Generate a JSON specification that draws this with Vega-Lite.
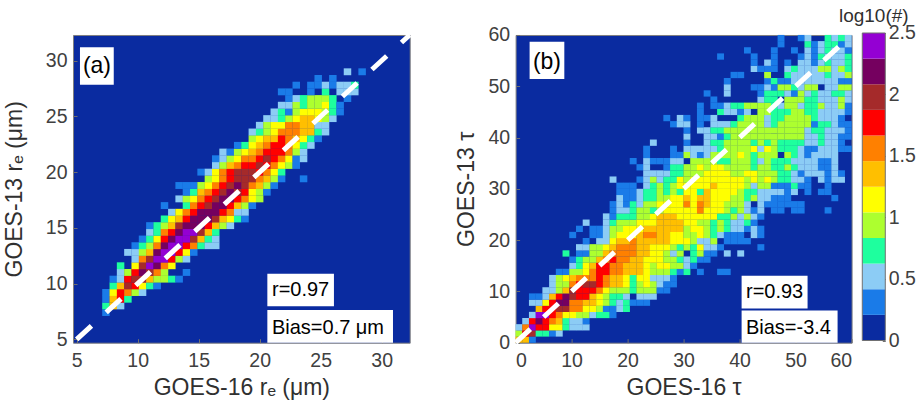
{"$schema":"https://vega.github.io/schema/vega-lite/v6.json","background":"white","padding":{"left":2,"top":7,"right":0,"bottom":0},"bounds":"flush","spacing":105.6,"config":{"font":"Liberation Sans","view":{"stroke":"#808080","strokeWidth":1},"axis":{"grid":false,"labelFont":"Liberation Sans","titleFont":"Liberation Sans","labelFontSize":19.5,"titleFontSize":23,"labelColor":"#404040","titleColor":"#303030","titleFontWeight":"normal","tickColor":"#707070","domain":false,"tickSize":-4,"labelPadding":10}},"datasets":{"a":[
{"x":7.4,"y":7.4,"v":0.3},
{"x":7.4,"y":8,"v":0.7},{"x":8,"y":8,"v":1.35},{"x":8.6,"y":8,"v":0.5},
{"x":7.4,"y":8.6,"v":0.3},{"x":8,"y":8.6,"v":1.35},{"x":8.6,"y":8.6,"v":1.75},{"x":9.2,"y":8.6,"v":0.7},
{"x":7.4,"y":9.2,"v":0.3},{"x":8,"y":9.2,"v":1.15},{"x":8.6,"y":9.2,"v":1.75},{"x":9.2,"y":9.2,"v":1.55},{"x":9.8,"y":9.2,"v":0.95},{"x":10.4,"y":9.2,"v":0.5},
{"x":8,"y":9.8,"v":0.7},{"x":8.6,"y":9.8,"v":1.35},{"x":9.2,"y":9.8,"v":1.95},{"x":9.8,"y":9.8,"v":1.75},{"x":10.4,"y":9.8,"v":1.15},{"x":11,"y":9.8,"v":0.7},{"x":11.6,"y":9.8,"v":0.3},
{"x":8,"y":10.4,"v":0.3},{"x":8.6,"y":10.4,"v":0.5},{"x":9.2,"y":10.4,"v":1.75},{"x":9.8,"y":10.4,"v":1.95},{"x":10.4,"y":10.4,"v":1.95},{"x":11,"y":10.4,"v":1.35},{"x":11.6,"y":10.4,"v":0.95},{"x":12.2,"y":10.4,"v":0.95},{"x":12.8,"y":10.4,"v":0.7},{"x":13.4,"y":10.4,"v":0.3},
{"x":8.6,"y":11,"v":0.5},{"x":9.2,"y":11,"v":0.95},{"x":9.8,"y":11,"v":1.75},{"x":10.4,"y":11,"v":2.15},{"x":11,"y":11,"v":1.95},{"x":11.6,"y":11,"v":1.55},{"x":12.2,"y":11,"v":0.95},{"x":14,"y":11,"v":0.3},
{"x":8.6,"y":11.6,"v":0.7},{"x":9.8,"y":11.6,"v":1.15},{"x":10.4,"y":11.6,"v":1.95},{"x":11,"y":11.6,"v":2.35},{"x":11.6,"y":11.6,"v":2.15},{"x":12.2,"y":11.6,"v":1.55},{"x":12.8,"y":11.6,"v":1.15},
{"x":9.8,"y":12.2,"v":0.5},{"x":10.4,"y":12.2,"v":1.55},{"x":11,"y":12.2,"v":1.95},{"x":11.6,"y":12.2,"v":2.35},{"x":12.2,"y":12.2,"v":2.35},{"x":12.8,"y":12.2,"v":1.75},{"x":13.4,"y":12.2,"v":0.95},{"x":14,"y":12.2,"v":0.5},
{"x":9.2,"y":12.8,"v":0.5},{"x":9.8,"y":12.8,"v":0.5},{"x":10.4,"y":12.8,"v":0.95},{"x":11,"y":12.8,"v":1.35},{"x":11.6,"y":12.8,"v":2.15},{"x":12.2,"y":12.8,"v":2.35},{"x":12.8,"y":12.8,"v":2.35},{"x":13.4,"y":12.8,"v":1.75},{"x":14,"y":12.8,"v":1.15},{"x":14.6,"y":12.8,"v":0.3},
{"x":9.8,"y":13.4,"v":0.3},{"x":10.4,"y":13.4,"v":0.7},{"x":11,"y":13.4,"v":0.95},{"x":11.6,"y":13.4,"v":1.55},{"x":12.2,"y":13.4,"v":2.15},{"x":12.8,"y":13.4,"v":2.35},{"x":13.4,"y":13.4,"v":2.35},{"x":14,"y":13.4,"v":1.75},{"x":14.6,"y":13.4,"v":1.55},{"x":15.2,"y":13.4,"v":0.7},{"x":15.8,"y":13.4,"v":0.5},{"x":16.4,"y":13.4,"v":0.5},
{"x":10.4,"y":14,"v":0.3},{"x":11,"y":14,"v":0.7},{"x":11.6,"y":14,"v":1.15},{"x":12.2,"y":14,"v":1.75},{"x":12.8,"y":14,"v":2.15},{"x":13.4,"y":14,"v":2.35},{"x":14,"y":14,"v":2.35},{"x":14.6,"y":14,"v":1.95},{"x":15.2,"y":14,"v":1.35},{"x":15.8,"y":14,"v":0.7},{"x":16.4,"y":14,"v":0.5},
{"x":11,"y":14.6,"v":0.5},{"x":11.6,"y":14.6,"v":0.7},{"x":12.2,"y":14.6,"v":1.55},{"x":12.8,"y":14.6,"v":1.75},{"x":13.4,"y":14.6,"v":2.15},{"x":14,"y":14.6,"v":2.35},{"x":14.6,"y":14.6,"v":2.35},{"x":15.2,"y":14.6,"v":1.95},{"x":15.8,"y":14.6,"v":1.35},{"x":16.4,"y":14.6,"v":0.7},
{"x":11,"y":15.2,"v":0.3},{"x":11.6,"y":15.2,"v":0.7},{"x":12.2,"y":15.2,"v":0.95},{"x":12.8,"y":15.2,"v":1.35},{"x":13.4,"y":15.2,"v":1.95},{"x":14,"y":15.2,"v":2.15},{"x":14.6,"y":15.2,"v":2.15},{"x":15.2,"y":15.2,"v":2.15},{"x":15.8,"y":15.2,"v":1.75},{"x":16.4,"y":15.2,"v":1.35},{"x":17,"y":15.2,"v":0.95},{"x":17.6,"y":15.2,"v":0.5},
{"x":12.2,"y":15.8,"v":0.7},{"x":12.8,"y":15.8,"v":1.15},{"x":13.4,"y":15.8,"v":1.35},{"x":14,"y":15.8,"v":1.75},{"x":14.6,"y":15.8,"v":2.15},{"x":15.2,"y":15.8,"v":2.15},{"x":15.8,"y":15.8,"v":2.15},{"x":16.4,"y":15.8,"v":1.95},{"x":17,"y":15.8,"v":1.35},{"x":17.6,"y":15.8,"v":1.15},{"x":18.2,"y":15.8,"v":0.7},{"x":18.8,"y":15.8,"v":0.3},
{"x":12.8,"y":16.4,"v":0.5},{"x":13.4,"y":16.4,"v":1.15},{"x":14,"y":16.4,"v":1.55},{"x":14.6,"y":16.4,"v":1.75},{"x":15.2,"y":16.4,"v":2.15},{"x":15.8,"y":16.4,"v":2.15},{"x":16.4,"y":16.4,"v":2.15},{"x":17,"y":16.4,"v":1.75},{"x":17.6,"y":16.4,"v":1.55},{"x":18.2,"y":16.4,"v":0.5},{"x":18.8,"y":16.4,"v":0.5},
{"x":12.2,"y":17,"v":0.3},{"x":14,"y":17,"v":0.7},{"x":14.6,"y":17,"v":1.55},{"x":15.2,"y":17,"v":1.75},{"x":15.8,"y":17,"v":1.95},{"x":16.4,"y":17,"v":2.15},{"x":17,"y":17,"v":2.15},{"x":17.6,"y":17,"v":1.75},{"x":18.2,"y":17,"v":1.35},{"x":18.8,"y":17,"v":0.95},{"x":19.4,"y":17,"v":0.3},
{"x":13.4,"y":17.6,"v":0.5},{"x":14,"y":17.6,"v":0.95},{"x":14.6,"y":17.6,"v":1.15},{"x":15.2,"y":17.6,"v":1.55},{"x":15.8,"y":17.6,"v":1.75},{"x":16.4,"y":17.6,"v":1.95},{"x":17,"y":17.6,"v":2.15},{"x":17.6,"y":17.6,"v":2.15},{"x":18.2,"y":17.6,"v":1.75},{"x":18.8,"y":17.6,"v":1.55},{"x":19.4,"y":17.6,"v":1.15},{"x":20,"y":17.6,"v":0.95},
{"x":14,"y":18.2,"v":0.3},{"x":14.6,"y":18.2,"v":0.7},{"x":15.2,"y":18.2,"v":1.35},{"x":15.8,"y":18.2,"v":1.55},{"x":16.4,"y":18.2,"v":1.75},{"x":17,"y":18.2,"v":1.95},{"x":17.6,"y":18.2,"v":2.15},{"x":18.2,"y":18.2,"v":1.95},{"x":18.8,"y":18.2,"v":1.75},{"x":19.4,"y":18.2,"v":1.15},{"x":20,"y":18.2,"v":0.95},{"x":20.6,"y":18.2,"v":0.3},
{"x":13.4,"y":18.8,"v":0.3},{"x":14,"y":18.8,"v":0.3},{"x":14.6,"y":18.8,"v":0.3},{"x":15.2,"y":18.8,"v":0.95},{"x":15.8,"y":18.8,"v":1.15},{"x":16.4,"y":18.8,"v":1.55},{"x":17,"y":18.8,"v":1.75},{"x":17.6,"y":18.8,"v":1.95},{"x":18.2,"y":18.8,"v":2.15},{"x":18.8,"y":18.8,"v":1.95},{"x":19.4,"y":18.8,"v":1.55},{"x":20,"y":18.8,"v":1.35},{"x":20.6,"y":18.8,"v":0.95},{"x":21.2,"y":18.8,"v":0.3},
{"x":15.8,"y":19.4,"v":0.95},{"x":16.4,"y":19.4,"v":1.15},{"x":17,"y":19.4,"v":1.55},{"x":17.6,"y":19.4,"v":1.75},{"x":18.2,"y":19.4,"v":1.95},{"x":18.8,"y":19.4,"v":1.95},{"x":19.4,"y":19.4,"v":1.95},{"x":20,"y":19.4,"v":1.55},{"x":20.6,"y":19.4,"v":1.35},{"x":21.2,"y":19.4,"v":0.95},{"x":21.8,"y":19.4,"v":0.3},{"x":23.6,"y":19.4,"v":0.3},
{"x":15.2,"y":20,"v":0.3},{"x":15.8,"y":20,"v":0.5},{"x":16.4,"y":20,"v":1.15},{"x":17,"y":20,"v":1.55},{"x":17.6,"y":20,"v":1.75},{"x":18.2,"y":20,"v":1.95},{"x":18.8,"y":20,"v":1.95},{"x":19.4,"y":20,"v":1.95},{"x":20,"y":20,"v":1.75},{"x":20.6,"y":20,"v":1.55},{"x":21.2,"y":20,"v":1.15},{"x":21.8,"y":20,"v":0.7},
{"x":16.4,"y":20.6,"v":0.5},{"x":17,"y":20.6,"v":0.95},{"x":17.6,"y":20.6,"v":1.35},{"x":18.2,"y":20.6,"v":1.55},{"x":18.8,"y":20.6,"v":1.75},{"x":19.4,"y":20.6,"v":1.75},{"x":20,"y":20.6,"v":1.95},{"x":20.6,"y":20.6,"v":1.75},{"x":21.2,"y":20.6,"v":1.55},{"x":21.8,"y":20.6,"v":1.15},{"x":22.4,"y":20.6,"v":0.95},{"x":23,"y":20.6,"v":0.3},
{"x":16.4,"y":21.2,"v":0.3},{"x":17,"y":21.2,"v":0.5},{"x":17.6,"y":21.2,"v":0.95},{"x":18.2,"y":21.2,"v":1.15},{"x":18.8,"y":21.2,"v":1.55},{"x":19.4,"y":21.2,"v":1.55},{"x":20,"y":21.2,"v":1.75},{"x":20.6,"y":21.2,"v":1.95},{"x":21.2,"y":21.2,"v":1.75},{"x":21.8,"y":21.2,"v":1.55},{"x":22.4,"y":21.2,"v":1.15},{"x":23,"y":21.2,"v":0.3},{"x":23.6,"y":21.2,"v":0.5},
{"x":17,"y":21.8,"v":0.5},{"x":17.6,"y":21.8,"v":0.3},{"x":18.2,"y":21.8,"v":0.95},{"x":18.8,"y":21.8,"v":1.15},{"x":19.4,"y":21.8,"v":1.35},{"x":20,"y":21.8,"v":1.55},{"x":20.6,"y":21.8,"v":1.75},{"x":21.2,"y":21.8,"v":1.75},{"x":21.8,"y":21.8,"v":1.75},{"x":22.4,"y":21.8,"v":1.55},{"x":23,"y":21.8,"v":0.95},{"x":23.6,"y":21.8,"v":0.5},
{"x":18.2,"y":22.4,"v":0.3},{"x":18.8,"y":22.4,"v":0.7},{"x":19.4,"y":22.4,"v":1.15},{"x":20,"y":22.4,"v":1.35},{"x":20.6,"y":22.4,"v":1.55},{"x":21.2,"y":22.4,"v":1.75},{"x":21.8,"y":22.4,"v":1.75},{"x":22.4,"y":22.4,"v":1.55},{"x":23,"y":22.4,"v":1.15},{"x":23.6,"y":22.4,"v":0.7},{"x":24.2,"y":22.4,"v":0.5},
{"x":19.4,"y":23,"v":0.95},{"x":20,"y":23,"v":1.15},{"x":20.6,"y":23,"v":1.35},{"x":21.2,"y":23,"v":1.35},{"x":21.8,"y":23,"v":1.75},{"x":22.4,"y":23,"v":1.55},{"x":23,"y":23,"v":1.35},{"x":23.6,"y":23,"v":1.15},{"x":24.2,"y":23,"v":0.7},{"x":24.8,"y":23,"v":0.3},
{"x":19.4,"y":23.6,"v":0.5},{"x":20,"y":23.6,"v":0.7},{"x":20.6,"y":23.6,"v":0.95},{"x":21.2,"y":23.6,"v":1.15},{"x":21.8,"y":23.6,"v":1.55},{"x":22.4,"y":23.6,"v":1.55},{"x":23,"y":23.6,"v":1.55},{"x":23.6,"y":23.6,"v":1.35},{"x":24.2,"y":23.6,"v":1.35},{"x":24.8,"y":23.6,"v":0.7},{"x":25.4,"y":23.6,"v":0.5},
{"x":20,"y":24.2,"v":0.5},{"x":20.6,"y":24.2,"v":0.95},{"x":21.2,"y":24.2,"v":1.15},{"x":21.8,"y":24.2,"v":1.15},{"x":22.4,"y":24.2,"v":1.55},{"x":23,"y":24.2,"v":1.55},{"x":23.6,"y":24.2,"v":1.35},{"x":24.2,"y":24.2,"v":1.35},{"x":24.8,"y":24.2,"v":0.5},{"x":25.4,"y":24.2,"v":0.5},
{"x":20.6,"y":24.8,"v":0.5},{"x":21.2,"y":24.8,"v":0.5},{"x":21.8,"y":24.8,"v":0.7},{"x":22.4,"y":24.8,"v":0.95},{"x":23,"y":24.8,"v":1.15},{"x":23.6,"y":24.8,"v":1.35},{"x":24.2,"y":24.8,"v":1.35},{"x":24.8,"y":24.8,"v":1.15},{"x":25.4,"y":24.8,"v":0.95},{"x":26,"y":24.8,"v":0.5},
{"x":21.2,"y":25.4,"v":0.5},{"x":21.8,"y":25.4,"v":0.7},{"x":22.4,"y":25.4,"v":0.3},{"x":23,"y":25.4,"v":0.95},{"x":23.6,"y":25.4,"v":1.15},{"x":24.2,"y":25.4,"v":1.15},{"x":24.8,"y":25.4,"v":1.15},{"x":25.4,"y":25.4,"v":0.95},{"x":26,"y":25.4,"v":0.7},{"x":26.6,"y":25.4,"v":0.3},
{"x":21.8,"y":26,"v":0.5},{"x":22.4,"y":26,"v":0.5},{"x":23,"y":26,"v":0.95},{"x":23.6,"y":26,"v":0.7},{"x":24.2,"y":26,"v":0.95},{"x":24.8,"y":26,"v":0.95},{"x":25.4,"y":26,"v":1.15},{"x":26,"y":26,"v":0.7},{"x":26.6,"y":26,"v":0.3},
{"x":22.4,"y":26.6,"v":0.3},{"x":23,"y":26.6,"v":0.5},{"x":23.6,"y":26.6,"v":0.7},{"x":24.2,"y":26.6,"v":0.95},{"x":24.8,"y":26.6,"v":0.95},{"x":25.4,"y":26.6,"v":0.95},{"x":26,"y":26.6,"v":0.7},{"x":27.2,"y":26.6,"v":0.3},
{"x":21.8,"y":27.2,"v":0.3},{"x":22.4,"y":27.2,"v":0.3},{"x":24.2,"y":27.2,"v":0.3},{"x":25.4,"y":27.2,"v":0.7},{"x":26.6,"y":27.2,"v":0.5},{"x":27.2,"y":27.2,"v":0.5},{"x":27.8,"y":27.2,"v":0.5},
{"x":23,"y":27.8,"v":0.3},{"x":24.2,"y":27.8,"v":0.3},{"x":24.8,"y":27.8,"v":0.3},{"x":25.4,"y":27.8,"v":0.5},{"x":26,"y":27.8,"v":0.3},{"x":26.6,"y":27.8,"v":0.5},{"x":27.2,"y":27.8,"v":0.5},{"x":27.8,"y":27.8,"v":0.7},
{"x":24.8,"y":28.4,"v":0.3},{"x":26,"y":28.4,"v":0.3},
{"x":27.2,"y":29,"v":0.5},{"x":28.4,"y":29,"v":0.3}
],"b":[
{"x":0.6,"y":0.6,"v":1.35},{"x":1.8,"y":0.6,"v":1.35},{"x":3,"y":0.6,"v":0.3},
{"x":0.6,"y":1.8,"v":0.95},{"x":1.8,"y":1.8,"v":1.75},{"x":3,"y":1.8,"v":1.95},{"x":4.2,"y":1.8,"v":0.7},{"x":5.4,"y":1.8,"v":0.7},{"x":6.6,"y":1.8,"v":0.3},{"x":7.8,"y":1.8,"v":0.5},
{"x":0.6,"y":3,"v":0.5},{"x":1.8,"y":3,"v":1.55},{"x":3,"y":3,"v":2.35},{"x":4.2,"y":3,"v":1.75},{"x":5.4,"y":3,"v":1.75},{"x":6.6,"y":3,"v":1.15},{"x":7.8,"y":3,"v":1.15},{"x":9,"y":3,"v":0.7},{"x":10.2,"y":3,"v":0.5},{"x":11.4,"y":3,"v":0.5},{"x":12.6,"y":3,"v":0.5},
{"x":1.8,"y":4.2,"v":0.5},{"x":3,"y":4.2,"v":1.75},{"x":4.2,"y":4.2,"v":2.15},{"x":5.4,"y":4.2,"v":1.75},{"x":6.6,"y":4.2,"v":1.55},{"x":7.8,"y":4.2,"v":1.35},{"x":9,"y":4.2,"v":0.7},{"x":10.2,"y":4.2,"v":0.5},{"x":11.4,"y":4.2,"v":0.5},{"x":12.6,"y":4.2,"v":0.3},
{"x":3,"y":5.4,"v":0.5},{"x":4.2,"y":5.4,"v":2.35},{"x":5.4,"y":5.4,"v":2.35},{"x":6.6,"y":5.4,"v":1.75},{"x":7.8,"y":5.4,"v":1.55},{"x":9,"y":5.4,"v":1.15},{"x":10.2,"y":5.4,"v":1.15},{"x":11.4,"y":5.4,"v":0.95},{"x":12.6,"y":5.4,"v":0.95},{"x":13.8,"y":5.4,"v":0.5},{"x":15,"y":5.4,"v":0.7},{"x":16.2,"y":5.4,"v":0.7},{"x":17.4,"y":5.4,"v":0.3},
{"x":4.2,"y":6.6,"v":1.35},{"x":5.4,"y":6.6,"v":1.75},{"x":6.6,"y":6.6,"v":1.75},{"x":7.8,"y":6.6,"v":1.95},{"x":9,"y":6.6,"v":1.95},{"x":10.2,"y":6.6,"v":1.55},{"x":11.4,"y":6.6,"v":1.55},{"x":12.6,"y":6.6,"v":1.15},{"x":13.8,"y":6.6,"v":1.15},{"x":15,"y":6.6,"v":0.95},{"x":16.2,"y":6.6,"v":0.3},{"x":17.4,"y":6.6,"v":0.3},{"x":18.6,"y":6.6,"v":0.5},{"x":19.8,"y":6.6,"v":0.7},
{"x":3,"y":7.8,"v":0.5},{"x":4.2,"y":7.8,"v":0.5},{"x":5.4,"y":7.8,"v":1.15},{"x":6.6,"y":7.8,"v":1.75},{"x":7.8,"y":7.8,"v":2.15},{"x":9,"y":7.8,"v":2.15},{"x":10.2,"y":7.8,"v":1.55},{"x":11.4,"y":7.8,"v":1.55},{"x":12.6,"y":7.8,"v":1.35},{"x":13.8,"y":7.8,"v":1.35},{"x":15,"y":7.8,"v":1.15},{"x":16.2,"y":7.8,"v":0.95},{"x":17.4,"y":7.8,"v":0.7},{"x":18.6,"y":7.8,"v":0.5},{"x":19.8,"y":7.8,"v":0.7},{"x":21,"y":7.8,"v":0.3},{"x":22.2,"y":7.8,"v":0.3},{"x":23.4,"y":7.8,"v":0.3},
{"x":3,"y":9,"v":0.3},{"x":4.2,"y":9,"v":0.3},{"x":5.4,"y":9,"v":0.5},{"x":6.6,"y":9,"v":1.35},{"x":7.8,"y":9,"v":1.75},{"x":9,"y":9,"v":2.15},{"x":10.2,"y":9,"v":1.95},{"x":11.4,"y":9,"v":1.75},{"x":12.6,"y":9,"v":1.75},{"x":13.8,"y":9,"v":1.35},{"x":15,"y":9,"v":1.15},{"x":16.2,"y":9,"v":0.95},{"x":17.4,"y":9,"v":0.7},{"x":18.6,"y":9,"v":0.7},{"x":19.8,"y":9,"v":0.5},{"x":22.2,"y":9,"v":0.5},{"x":23.4,"y":9,"v":0.5},{"x":24.6,"y":9,"v":0.5},
{"x":5.4,"y":10.2,"v":0.5},{"x":6.6,"y":10.2,"v":0.5},{"x":7.8,"y":10.2,"v":0.95},{"x":9,"y":10.2,"v":1.35},{"x":10.2,"y":10.2,"v":1.95},{"x":11.4,"y":10.2,"v":1.75},{"x":12.6,"y":10.2,"v":1.75},{"x":13.8,"y":10.2,"v":1.75},{"x":15,"y":10.2,"v":1.55},{"x":16.2,"y":10.2,"v":1.15},{"x":17.4,"y":10.2,"v":0.95},{"x":18.6,"y":10.2,"v":0.95},{"x":19.8,"y":10.2,"v":0.95},{"x":21,"y":10.2,"v":0.7},{"x":22.2,"y":10.2,"v":0.95},{"x":23.4,"y":10.2,"v":0.95},{"x":24.6,"y":10.2,"v":0.95},{"x":25.8,"y":10.2,"v":0.3},{"x":27,"y":10.2,"v":0.3},
{"x":6.6,"y":11.4,"v":0.5},{"x":7.8,"y":11.4,"v":0.95},{"x":9,"y":11.4,"v":0.95},{"x":10.2,"y":11.4,"v":1.55},{"x":11.4,"y":11.4,"v":1.75},{"x":12.6,"y":11.4,"v":1.95},{"x":13.8,"y":11.4,"v":1.95},{"x":15,"y":11.4,"v":1.75},{"x":16.2,"y":11.4,"v":1.55},{"x":17.4,"y":11.4,"v":1.35},{"x":18.6,"y":11.4,"v":1.35},{"x":19.8,"y":11.4,"v":1.15},{"x":21,"y":11.4,"v":0.7},{"x":22.2,"y":11.4,"v":0.95},{"x":23.4,"y":11.4,"v":1.15},{"x":24.6,"y":11.4,"v":0.95},{"x":25.8,"y":11.4,"v":0.5},{"x":27,"y":11.4,"v":0.3},{"x":28.2,"y":11.4,"v":0.3},
{"x":6.6,"y":12.6,"v":0.5},{"x":7.8,"y":12.6,"v":0.95},{"x":9,"y":12.6,"v":1.15},{"x":10.2,"y":12.6,"v":1.35},{"x":11.4,"y":12.6,"v":1.55},{"x":12.6,"y":12.6,"v":1.55},{"x":13.8,"y":12.6,"v":1.55},{"x":15,"y":12.6,"v":1.75},{"x":16.2,"y":12.6,"v":1.55},{"x":17.4,"y":12.6,"v":1.35},{"x":18.6,"y":12.6,"v":1.35},{"x":19.8,"y":12.6,"v":1.15},{"x":21,"y":12.6,"v":0.7},{"x":22.2,"y":12.6,"v":1.15},{"x":23.4,"y":12.6,"v":1.15},{"x":24.6,"y":12.6,"v":0.5},{"x":25.8,"y":12.6,"v":0.5},{"x":27,"y":12.6,"v":0.5},{"x":28.2,"y":12.6,"v":0.3},
{"x":7.8,"y":13.8,"v":0.3},{"x":9,"y":13.8,"v":0.3},{"x":10.2,"y":13.8,"v":0.95},{"x":11.4,"y":13.8,"v":0.95},{"x":12.6,"y":13.8,"v":1.15},{"x":13.8,"y":13.8,"v":1.55},{"x":15,"y":13.8,"v":1.75},{"x":16.2,"y":13.8,"v":1.75},{"x":17.4,"y":13.8,"v":1.55},{"x":18.6,"y":13.8,"v":1.55},{"x":19.8,"y":13.8,"v":1.35},{"x":21,"y":13.8,"v":1.35},{"x":22.2,"y":13.8,"v":1.35},{"x":23.4,"y":13.8,"v":1.15},{"x":24.6,"y":13.8,"v":0.95},{"x":25.8,"y":13.8,"v":0.95},{"x":27,"y":13.8,"v":0.95},{"x":28.2,"y":13.8,"v":0.7},{"x":29.4,"y":13.8,"v":0.3},{"x":30.6,"y":13.8,"v":0.7},{"x":33,"y":13.8,"v":0.3},{"x":36.6,"y":13.8,"v":0.3},{"x":37.8,"y":13.8,"v":0.3},
{"x":10.2,"y":15,"v":0.5},{"x":11.4,"y":15,"v":0.7},{"x":12.6,"y":15,"v":1.15},{"x":13.8,"y":15,"v":1.35},{"x":15,"y":15,"v":1.75},{"x":16.2,"y":15,"v":1.75},{"x":17.4,"y":15,"v":1.55},{"x":18.6,"y":15,"v":1.55},{"x":19.8,"y":15,"v":1.35},{"x":21,"y":15,"v":1.35},{"x":22.2,"y":15,"v":1.35},{"x":23.4,"y":15,"v":1.15},{"x":24.6,"y":15,"v":0.95},{"x":25.8,"y":15,"v":1.15},{"x":27,"y":15,"v":1.15},{"x":28.2,"y":15,"v":0.95},{"x":29.4,"y":15,"v":0.95},{"x":30.6,"y":15,"v":0.5},{"x":31.8,"y":15,"v":0.3},
{"x":10.2,"y":16.2,"v":0.3},{"x":11.4,"y":16.2,"v":0.7},{"x":12.6,"y":16.2,"v":0.95},{"x":13.8,"y":16.2,"v":0.95},{"x":15,"y":16.2,"v":1.35},{"x":16.2,"y":16.2,"v":1.55},{"x":17.4,"y":16.2,"v":1.75},{"x":18.6,"y":16.2,"v":1.55},{"x":19.8,"y":16.2,"v":1.55},{"x":21,"y":16.2,"v":1.35},{"x":22.2,"y":16.2,"v":1.35},{"x":23.4,"y":16.2,"v":1.15},{"x":24.6,"y":16.2,"v":1.15},{"x":25.8,"y":16.2,"v":1.15},{"x":27,"y":16.2,"v":0.95},{"x":28.2,"y":16.2,"v":0.95},{"x":29.4,"y":16.2,"v":0.7},{"x":30.6,"y":16.2,"v":0.5},{"x":31.8,"y":16.2,"v":0.7},{"x":33,"y":16.2,"v":0.3},{"x":34.2,"y":16.2,"v":0.3},
{"x":9,"y":17.4,"v":0.7},{"x":11.4,"y":17.4,"v":0.3},{"x":12.6,"y":17.4,"v":0.3},{"x":13.8,"y":17.4,"v":0.95},{"x":15,"y":17.4,"v":0.95},{"x":16.2,"y":17.4,"v":1.35},{"x":17.4,"y":17.4,"v":1.55},{"x":18.6,"y":17.4,"v":1.55},{"x":19.8,"y":17.4,"v":1.55},{"x":21,"y":17.4,"v":1.55},{"x":22.2,"y":17.4,"v":1.35},{"x":23.4,"y":17.4,"v":1.35},{"x":24.6,"y":17.4,"v":1.15},{"x":25.8,"y":17.4,"v":1.15},{"x":27,"y":17.4,"v":0.95},{"x":28.2,"y":17.4,"v":0.5},{"x":29.4,"y":17.4,"v":0.95},{"x":31.8,"y":17.4,"v":0.7},{"x":33,"y":17.4,"v":0.95},{"x":34.2,"y":17.4,"v":0.3},{"x":35.4,"y":17.4,"v":0.3},{"x":37.8,"y":17.4,"v":0.5},{"x":40.2,"y":17.4,"v":0.5},
{"x":11.4,"y":18.6,"v":0.5},{"x":12.6,"y":18.6,"v":0.5},{"x":13.8,"y":18.6,"v":0.95},{"x":15,"y":18.6,"v":0.95},{"x":16.2,"y":18.6,"v":1.15},{"x":17.4,"y":18.6,"v":1.35},{"x":18.6,"y":18.6,"v":1.55},{"x":19.8,"y":18.6,"v":1.55},{"x":21,"y":18.6,"v":1.55},{"x":22.2,"y":18.6,"v":1.35},{"x":23.4,"y":18.6,"v":1.35},{"x":24.6,"y":18.6,"v":1.15},{"x":25.8,"y":18.6,"v":1.15},{"x":27,"y":18.6,"v":1.15},{"x":28.2,"y":18.6,"v":0.95},{"x":29.4,"y":18.6,"v":0.7},{"x":30.6,"y":18.6,"v":0.95},{"x":31.8,"y":18.6,"v":0.7},{"x":33,"y":18.6,"v":1.15},{"x":34.2,"y":18.6,"v":0.5},{"x":35.4,"y":18.6,"v":0.5},{"x":36.6,"y":18.6,"v":0.3},{"x":43.8,"y":18.6,"v":0.3},
{"x":12.6,"y":19.8,"v":0.3},{"x":15,"y":19.8,"v":0.5},{"x":16.2,"y":19.8,"v":0.5},{"x":17.4,"y":19.8,"v":1.15},{"x":18.6,"y":19.8,"v":1.35},{"x":19.8,"y":19.8,"v":1.35},{"x":21,"y":19.8,"v":1.55},{"x":22.2,"y":19.8,"v":1.35},{"x":23.4,"y":19.8,"v":1.35},{"x":24.6,"y":19.8,"v":1.35},{"x":25.8,"y":19.8,"v":1.35},{"x":27,"y":19.8,"v":1.35},{"x":28.2,"y":19.8,"v":1.15},{"x":29.4,"y":19.8,"v":1.15},{"x":30.6,"y":19.8,"v":1.15},{"x":31.8,"y":19.8,"v":0.95},{"x":33,"y":19.8,"v":0.5},{"x":34.2,"y":19.8,"v":0.5},{"x":35.4,"y":19.8,"v":0.95},{"x":37.8,"y":19.8,"v":0.3},{"x":39,"y":19.8,"v":0.3},{"x":40.2,"y":19.8,"v":0.3},{"x":41.4,"y":19.8,"v":0.3},
{"x":10.2,"y":21,"v":0.3},{"x":13.8,"y":21,"v":0.3},{"x":15,"y":21,"v":0.3},{"x":16.2,"y":21,"v":0.5},{"x":17.4,"y":21,"v":0.95},{"x":18.6,"y":21,"v":1.15},{"x":19.8,"y":21,"v":1.15},{"x":21,"y":21,"v":1.15},{"x":22.2,"y":21,"v":1.35},{"x":23.4,"y":21,"v":1.55},{"x":24.6,"y":21,"v":1.55},{"x":25.8,"y":21,"v":1.35},{"x":27,"y":21,"v":1.35},{"x":28.2,"y":21,"v":1.15},{"x":29.4,"y":21,"v":1.15},{"x":30.6,"y":21,"v":0.95},{"x":31.8,"y":21,"v":0.95},{"x":33,"y":21,"v":1.15},{"x":34.2,"y":21,"v":0.95},{"x":35.4,"y":21,"v":0.7},{"x":36.6,"y":21,"v":0.5},{"x":37.8,"y":21,"v":0.3},{"x":39,"y":21,"v":0.3},{"x":40.2,"y":21,"v":0.3},{"x":42.6,"y":21,"v":0.5},{"x":43.8,"y":21,"v":0.3},
{"x":11.4,"y":22.2,"v":0.3},{"x":13.8,"y":22.2,"v":0.3},{"x":15,"y":22.2,"v":0.3},{"x":16.2,"y":22.2,"v":0.5},{"x":17.4,"y":22.2,"v":0.95},{"x":18.6,"y":22.2,"v":0.95},{"x":19.8,"y":22.2,"v":1.15},{"x":21,"y":22.2,"v":1.15},{"x":22.2,"y":22.2,"v":1.15},{"x":23.4,"y":22.2,"v":1.35},{"x":24.6,"y":22.2,"v":1.35},{"x":25.8,"y":22.2,"v":1.35},{"x":27,"y":22.2,"v":1.35},{"x":28.2,"y":22.2,"v":1.35},{"x":29.4,"y":22.2,"v":1.35},{"x":30.6,"y":22.2,"v":0.95},{"x":31.8,"y":22.2,"v":1.15},{"x":33,"y":22.2,"v":1.15},{"x":34.2,"y":22.2,"v":0.95},{"x":35.4,"y":22.2,"v":0.7},{"x":36.6,"y":22.2,"v":0.95},{"x":37.8,"y":22.2,"v":0.7},{"x":39,"y":22.2,"v":0.5},{"x":40.2,"y":22.2,"v":0.5},{"x":41.4,"y":22.2,"v":0.3},{"x":42.6,"y":22.2,"v":0.5},{"x":43.8,"y":22.2,"v":0.3},
{"x":12.6,"y":23.4,"v":0.5},{"x":16.2,"y":23.4,"v":0.5},{"x":17.4,"y":23.4,"v":0.7},{"x":18.6,"y":23.4,"v":0.95},{"x":19.8,"y":23.4,"v":0.95},{"x":21,"y":23.4,"v":0.95},{"x":22.2,"y":23.4,"v":1.15},{"x":23.4,"y":23.4,"v":1.15},{"x":24.6,"y":23.4,"v":1.15},{"x":25.8,"y":23.4,"v":1.35},{"x":27,"y":23.4,"v":1.35},{"x":28.2,"y":23.4,"v":1.35},{"x":29.4,"y":23.4,"v":1.35},{"x":30.6,"y":23.4,"v":1.15},{"x":31.8,"y":23.4,"v":1.15},{"x":33,"y":23.4,"v":0.95},{"x":34.2,"y":23.4,"v":0.95},{"x":35.4,"y":23.4,"v":0.7},{"x":36.6,"y":23.4,"v":0.95},{"x":37.8,"y":23.4,"v":0.7},{"x":39,"y":23.4,"v":0.5},{"x":40.2,"y":23.4,"v":0.5},{"x":41.4,"y":23.4,"v":0.7},{"x":42.6,"y":23.4,"v":0.3},
{"x":16.2,"y":24.6,"v":0.5},{"x":17.4,"y":24.6,"v":0.3},{"x":18.6,"y":24.6,"v":0.7},{"x":19.8,"y":24.6,"v":0.7},{"x":21,"y":24.6,"v":0.7},{"x":22.2,"y":24.6,"v":0.95},{"x":23.4,"y":24.6,"v":0.95},{"x":24.6,"y":24.6,"v":1.15},{"x":25.8,"y":24.6,"v":1.35},{"x":27,"y":24.6,"v":1.35},{"x":28.2,"y":24.6,"v":1.35},{"x":29.4,"y":24.6,"v":1.15},{"x":30.6,"y":24.6,"v":1.15},{"x":31.8,"y":24.6,"v":1.15},{"x":33,"y":24.6,"v":1.15},{"x":34.2,"y":24.6,"v":1.15},{"x":35.4,"y":24.6,"v":1.15},{"x":36.6,"y":24.6,"v":0.7},{"x":37.8,"y":24.6,"v":0.7},{"x":39,"y":24.6,"v":0.95},{"x":40.2,"y":24.6,"v":0.5},{"x":41.4,"y":24.6,"v":0.95},{"x":42.6,"y":24.6,"v":0.5},{"x":43.8,"y":24.6,"v":0.3},
{"x":17.4,"y":25.8,"v":0.3},{"x":18.6,"y":25.8,"v":0.5},{"x":19.8,"y":25.8,"v":0.5},{"x":21,"y":25.8,"v":0.7},{"x":22.2,"y":25.8,"v":0.95},{"x":23.4,"y":25.8,"v":0.95},{"x":24.6,"y":25.8,"v":0.7},{"x":25.8,"y":25.8,"v":0.95},{"x":27,"y":25.8,"v":1.15},{"x":28.2,"y":25.8,"v":1.15},{"x":29.4,"y":25.8,"v":1.15},{"x":30.6,"y":25.8,"v":1.15},{"x":31.8,"y":25.8,"v":1.15},{"x":33,"y":25.8,"v":1.55},{"x":34.2,"y":25.8,"v":1.15},{"x":35.4,"y":25.8,"v":1.15},{"x":36.6,"y":25.8,"v":1.15},{"x":37.8,"y":25.8,"v":0.95},{"x":39,"y":25.8,"v":0.7},{"x":40.2,"y":25.8,"v":0.95},{"x":41.4,"y":25.8,"v":0.5},{"x":42.6,"y":25.8,"v":0.3},{"x":43.8,"y":25.8,"v":0.5},{"x":46.2,"y":25.8,"v":0.3},{"x":47.4,"y":25.8,"v":0.3},{"x":49.8,"y":25.8,"v":0.3},{"x":51,"y":25.8,"v":0.3},{"x":55.8,"y":25.8,"v":0.3},
{"x":17.4,"y":27,"v":0.3},{"x":18.6,"y":27,"v":0.5},{"x":19.8,"y":27,"v":0.3},{"x":21,"y":27,"v":0.7},{"x":22.2,"y":27,"v":0.5},{"x":23.4,"y":27,"v":0.95},{"x":24.6,"y":27,"v":0.95},{"x":25.8,"y":27,"v":1.15},{"x":27,"y":27,"v":1.15},{"x":28.2,"y":27,"v":1.15},{"x":29.4,"y":27,"v":1.15},{"x":30.6,"y":27,"v":1.55},{"x":31.8,"y":27,"v":1.15},{"x":33,"y":27,"v":1.55},{"x":34.2,"y":27,"v":1.35},{"x":35.4,"y":27,"v":1.15},{"x":36.6,"y":27,"v":1.15},{"x":37.8,"y":27,"v":0.95},{"x":39,"y":27,"v":0.95},{"x":40.2,"y":27,"v":0.95},{"x":41.4,"y":27,"v":0.5},{"x":43.8,"y":27,"v":0.5},{"x":45,"y":27,"v":0.3},{"x":46.2,"y":27,"v":0.3},{"x":47.4,"y":27,"v":0.3},{"x":48.6,"y":27,"v":0.3},{"x":49.8,"y":27,"v":0.3},{"x":51,"y":27,"v":0.3},
{"x":18.6,"y":28.2,"v":0.5},{"x":19.8,"y":28.2,"v":0.3},{"x":21,"y":28.2,"v":0.3},{"x":22.2,"y":28.2,"v":0.5},{"x":23.4,"y":28.2,"v":0.7},{"x":24.6,"y":28.2,"v":0.7},{"x":25.8,"y":28.2,"v":0.95},{"x":27,"y":28.2,"v":0.95},{"x":28.2,"y":28.2,"v":1.15},{"x":29.4,"y":28.2,"v":1.15},{"x":30.6,"y":28.2,"v":1.35},{"x":31.8,"y":28.2,"v":1.15},{"x":33,"y":28.2,"v":1.35},{"x":34.2,"y":28.2,"v":1.35},{"x":35.4,"y":28.2,"v":1.15},{"x":36.6,"y":28.2,"v":1.15},{"x":37.8,"y":28.2,"v":1.15},{"x":39,"y":28.2,"v":0.95},{"x":40.2,"y":28.2,"v":0.95},{"x":41.4,"y":28.2,"v":0.7},{"x":42.6,"y":28.2,"v":0.95},{"x":43.8,"y":28.2,"v":0.5},{"x":45,"y":28.2,"v":0.5},{"x":46.2,"y":28.2,"v":0.3},{"x":47.4,"y":28.2,"v":0.3},{"x":48.6,"y":28.2,"v":0.3},{"x":57,"y":28.2,"v":0.3},
{"x":18.6,"y":29.4,"v":0.3},{"x":19.8,"y":29.4,"v":0.3},{"x":21,"y":29.4,"v":0.3},{"x":22.2,"y":29.4,"v":0.5},{"x":23.4,"y":29.4,"v":0.7},{"x":24.6,"y":29.4,"v":0.7},{"x":25.8,"y":29.4,"v":0.95},{"x":27,"y":29.4,"v":0.7},{"x":28.2,"y":29.4,"v":0.95},{"x":29.4,"y":29.4,"v":0.7},{"x":30.6,"y":29.4,"v":1.15},{"x":31.8,"y":29.4,"v":1.15},{"x":33,"y":29.4,"v":0.7},{"x":34.2,"y":29.4,"v":1.35},{"x":35.4,"y":29.4,"v":1.15},{"x":36.6,"y":29.4,"v":1.15},{"x":37.8,"y":29.4,"v":1.15},{"x":39,"y":29.4,"v":1.15},{"x":40.2,"y":29.4,"v":0.95},{"x":41.4,"y":29.4,"v":0.7},{"x":42.6,"y":29.4,"v":0.7},{"x":43.8,"y":29.4,"v":0.5},{"x":45,"y":29.4,"v":0.5},{"x":46.2,"y":29.4,"v":0.5},{"x":47.4,"y":29.4,"v":0.5},{"x":48.6,"y":29.4,"v":0.3},{"x":49.8,"y":29.4,"v":0.5},{"x":52.2,"y":29.4,"v":0.3},{"x":54.6,"y":29.4,"v":0.3},{"x":55.8,"y":29.4,"v":0.3},
{"x":18.6,"y":30.6,"v":0.3},{"x":19.8,"y":30.6,"v":0.3},{"x":21,"y":30.6,"v":0.3},{"x":23.4,"y":30.6,"v":0.5},{"x":24.6,"y":30.6,"v":0.7},{"x":25.8,"y":30.6,"v":0.95},{"x":27,"y":30.6,"v":0.7},{"x":28.2,"y":30.6,"v":0.95},{"x":29.4,"y":30.6,"v":1.15},{"x":30.6,"y":30.6,"v":1.15},{"x":31.8,"y":30.6,"v":1.15},{"x":33,"y":30.6,"v":1.15},{"x":34.2,"y":30.6,"v":1.15},{"x":35.4,"y":30.6,"v":1.35},{"x":36.6,"y":30.6,"v":1.15},{"x":37.8,"y":30.6,"v":1.15},{"x":39,"y":30.6,"v":1.15},{"x":40.2,"y":30.6,"v":1.15},{"x":41.4,"y":30.6,"v":0.95},{"x":42.6,"y":30.6,"v":0.5},{"x":43.8,"y":30.6,"v":0.95},{"x":45,"y":30.6,"v":0.95},{"x":46.2,"y":30.6,"v":0.3},{"x":47.4,"y":30.6,"v":0.3},{"x":48.6,"y":30.6,"v":0.3},{"x":49.8,"y":30.6,"v":0.7},{"x":51,"y":30.6,"v":0.3},{"x":52.2,"y":30.6,"v":0.3},{"x":55.8,"y":30.6,"v":0.3},
{"x":17.4,"y":31.8,"v":0.5},{"x":22.2,"y":31.8,"v":0.3},{"x":23.4,"y":31.8,"v":0.5},{"x":24.6,"y":31.8,"v":0.95},{"x":25.8,"y":31.8,"v":0.5},{"x":27,"y":31.8,"v":0.7},{"x":28.2,"y":31.8,"v":0.7},{"x":29.4,"y":31.8,"v":1.15},{"x":30.6,"y":31.8,"v":0.95},{"x":31.8,"y":31.8,"v":1.15},{"x":33,"y":31.8,"v":1.15},{"x":34.2,"y":31.8,"v":1.15},{"x":35.4,"y":31.8,"v":1.15},{"x":36.6,"y":31.8,"v":1.15},{"x":37.8,"y":31.8,"v":1.15},{"x":39,"y":31.8,"v":1.15},{"x":40.2,"y":31.8,"v":1.15},{"x":41.4,"y":31.8,"v":0.95},{"x":42.6,"y":31.8,"v":1.15},{"x":43.8,"y":31.8,"v":0.95},{"x":45,"y":31.8,"v":1.15},{"x":46.2,"y":31.8,"v":0.95},{"x":47.4,"y":31.8,"v":0.7},{"x":48.6,"y":31.8,"v":0.7},{"x":49.8,"y":31.8,"v":0.5},{"x":51,"y":31.8,"v":0.5},{"x":52.2,"y":31.8,"v":0.3},{"x":54.6,"y":31.8,"v":0.5},{"x":55.8,"y":31.8,"v":0.3},{"x":57,"y":31.8,"v":0.5},{"x":58.2,"y":31.8,"v":0.5},
{"x":23.4,"y":33,"v":0.5},{"x":24.6,"y":33,"v":0.5},{"x":25.8,"y":33,"v":0.5},{"x":27,"y":33,"v":0.5},{"x":28.2,"y":33,"v":0.7},{"x":29.4,"y":33,"v":0.7},{"x":30.6,"y":33,"v":0.95},{"x":31.8,"y":33,"v":0.95},{"x":33,"y":33,"v":0.95},{"x":34.2,"y":33,"v":1.15},{"x":35.4,"y":33,"v":1.15},{"x":36.6,"y":33,"v":1.15},{"x":37.8,"y":33,"v":1.15},{"x":39,"y":33,"v":0.95},{"x":40.2,"y":33,"v":0.95},{"x":41.4,"y":33,"v":1.15},{"x":42.6,"y":33,"v":1.15},{"x":43.8,"y":33,"v":0.95},{"x":45,"y":33,"v":0.95},{"x":46.2,"y":33,"v":0.95},{"x":47.4,"y":33,"v":0.7},{"x":48.6,"y":33,"v":0.7},{"x":49.8,"y":33,"v":0.5},{"x":51,"y":33,"v":0.3},{"x":52.2,"y":33,"v":0.5},{"x":53.4,"y":33,"v":0.5},{"x":54.6,"y":33,"v":0.5},{"x":55.8,"y":33,"v":0.3},{"x":57,"y":33,"v":0.5},{"x":58.2,"y":33,"v":0.3},
{"x":22.2,"y":34.2,"v":0.3},{"x":23.4,"y":34.2,"v":0.5},{"x":27,"y":34.2,"v":0.3},{"x":28.2,"y":34.2,"v":0.7},{"x":29.4,"y":34.2,"v":0.7},{"x":30.6,"y":34.2,"v":0.95},{"x":31.8,"y":34.2,"v":0.95},{"x":33,"y":34.2,"v":1.15},{"x":34.2,"y":34.2,"v":0.95},{"x":35.4,"y":34.2,"v":1.15},{"x":36.6,"y":34.2,"v":1.15},{"x":37.8,"y":34.2,"v":0.95},{"x":39,"y":34.2,"v":0.95},{"x":40.2,"y":34.2,"v":0.95},{"x":41.4,"y":34.2,"v":0.95},{"x":42.6,"y":34.2,"v":0.7},{"x":43.8,"y":34.2,"v":0.95},{"x":45,"y":34.2,"v":0.95},{"x":46.2,"y":34.2,"v":0.7},{"x":47.4,"y":34.2,"v":0.7},{"x":48.6,"y":34.2,"v":0.95},{"x":49.8,"y":34.2,"v":0.7},{"x":51,"y":34.2,"v":0.5},{"x":52.2,"y":34.2,"v":0.5},{"x":53.4,"y":34.2,"v":0.5},{"x":54.6,"y":34.2,"v":0.3},{"x":55.8,"y":34.2,"v":0.3},{"x":57,"y":34.2,"v":0.5},
{"x":21,"y":35.4,"v":0.3},{"x":23.4,"y":35.4,"v":0.5},{"x":24.6,"y":35.4,"v":0.3},{"x":25.8,"y":35.4,"v":0.3},{"x":27,"y":35.4,"v":0.3},{"x":28.2,"y":35.4,"v":0.5},{"x":29.4,"y":35.4,"v":0.5},{"x":31.8,"y":35.4,"v":0.95},{"x":33,"y":35.4,"v":0.95},{"x":34.2,"y":35.4,"v":0.95},{"x":35.4,"y":35.4,"v":0.95},{"x":36.6,"y":35.4,"v":0.7},{"x":37.8,"y":35.4,"v":0.7},{"x":39,"y":35.4,"v":0.95},{"x":40.2,"y":35.4,"v":0.95},{"x":41.4,"y":35.4,"v":0.95},{"x":42.6,"y":35.4,"v":0.7},{"x":43.8,"y":35.4,"v":0.5},{"x":45,"y":35.4,"v":0.95},{"x":46.2,"y":35.4,"v":0.7},{"x":47.4,"y":35.4,"v":0.7},{"x":48.6,"y":35.4,"v":0.7},{"x":49.8,"y":35.4,"v":0.5},{"x":51,"y":35.4,"v":0.5},{"x":52.2,"y":35.4,"v":0.5},{"x":53.4,"y":35.4,"v":0.5},{"x":54.6,"y":35.4,"v":0.3},{"x":55.8,"y":35.4,"v":0.3},{"x":57,"y":35.4,"v":0.5},
{"x":23.4,"y":36.6,"v":0.3},{"x":28.2,"y":36.6,"v":0.3},{"x":29.4,"y":36.6,"v":0.3},{"x":30.6,"y":36.6,"v":0.95},{"x":31.8,"y":36.6,"v":0.5},{"x":33,"y":36.6,"v":0.3},{"x":34.2,"y":36.6,"v":0.5},{"x":35.4,"y":36.6,"v":0.95},{"x":36.6,"y":36.6,"v":0.95},{"x":37.8,"y":36.6,"v":0.95},{"x":39,"y":36.6,"v":0.95},{"x":40.2,"y":36.6,"v":1.15},{"x":41.4,"y":36.6,"v":0.95},{"x":42.6,"y":36.6,"v":0.7},{"x":43.8,"y":36.6,"v":0.95},{"x":45,"y":36.6,"v":0.95},{"x":46.2,"y":36.6,"v":0.95},{"x":48.6,"y":36.6,"v":0.95},{"x":49.8,"y":36.6,"v":0.7},{"x":51,"y":36.6,"v":0.5},{"x":52.2,"y":36.6,"v":0.3},{"x":53.4,"y":36.6,"v":0.5},{"x":54.6,"y":36.6,"v":0.5},{"x":55.8,"y":36.6,"v":0.5},{"x":57,"y":36.6,"v":0.5},
{"x":23.4,"y":37.8,"v":0.3},{"x":28.2,"y":37.8,"v":0.3},{"x":30.6,"y":37.8,"v":0.5},{"x":31.8,"y":37.8,"v":0.5},{"x":33,"y":37.8,"v":0.5},{"x":34.2,"y":37.8,"v":0.5},{"x":35.4,"y":37.8,"v":0.5},{"x":36.6,"y":37.8,"v":0.7},{"x":37.8,"y":37.8,"v":0.95},{"x":39,"y":37.8,"v":0.95},{"x":40.2,"y":37.8,"v":0.95},{"x":41.4,"y":37.8,"v":0.95},{"x":42.6,"y":37.8,"v":1.15},{"x":43.8,"y":37.8,"v":0.5},{"x":45,"y":37.8,"v":1.15},{"x":46.2,"y":37.8,"v":0.95},{"x":47.4,"y":37.8,"v":0.7},{"x":48.6,"y":37.8,"v":0.7},{"x":49.8,"y":37.8,"v":0.7},{"x":51,"y":37.8,"v":0.5},{"x":52.2,"y":37.8,"v":0.3},{"x":53.4,"y":37.8,"v":0.3},{"x":54.6,"y":37.8,"v":0.5},{"x":55.8,"y":37.8,"v":0.5},{"x":57,"y":37.8,"v":0.5},{"x":58.2,"y":37.8,"v":0.3},{"x":59.4,"y":37.8,"v":0.3},
{"x":24.6,"y":39,"v":0.5},{"x":30.6,"y":39,"v":0.3},{"x":34.2,"y":39,"v":0.5},{"x":35.4,"y":39,"v":0.7},{"x":36.6,"y":39,"v":0.7},{"x":37.8,"y":39,"v":0.95},{"x":39,"y":39,"v":0.95},{"x":40.2,"y":39,"v":0.95},{"x":41.4,"y":39,"v":0.95},{"x":42.6,"y":39,"v":0.7},{"x":43.8,"y":39,"v":0.95},{"x":45,"y":39,"v":0.7},{"x":46.2,"y":39,"v":0.95},{"x":47.4,"y":39,"v":0.7},{"x":48.6,"y":39,"v":0.7},{"x":49.8,"y":39,"v":0.7},{"x":51,"y":39,"v":0.7},{"x":52.2,"y":39,"v":0.5},{"x":53.4,"y":39,"v":0.5},{"x":54.6,"y":39,"v":0.7},{"x":55.8,"y":39,"v":0.5},{"x":57,"y":39,"v":0.5},{"x":58.2,"y":39,"v":0.3},
{"x":30.6,"y":40.2,"v":0.5},{"x":34.2,"y":40.2,"v":0.5},{"x":35.4,"y":40.2,"v":0.5},{"x":36.6,"y":40.2,"v":0.3},{"x":37.8,"y":40.2,"v":0.7},{"x":39,"y":40.2,"v":0.95},{"x":40.2,"y":40.2,"v":0.95},{"x":41.4,"y":40.2,"v":0.95},{"x":42.6,"y":40.2,"v":0.95},{"x":43.8,"y":40.2,"v":0.95},{"x":45,"y":40.2,"v":0.95},{"x":46.2,"y":40.2,"v":0.95},{"x":47.4,"y":40.2,"v":0.95},{"x":48.6,"y":40.2,"v":0.95},{"x":49.8,"y":40.2,"v":0.95},{"x":51,"y":40.2,"v":0.95},{"x":52.2,"y":40.2,"v":0.5},{"x":53.4,"y":40.2,"v":0.5},{"x":54.6,"y":40.2,"v":0.7},{"x":55.8,"y":40.2,"v":0.5},{"x":57,"y":40.2,"v":0.5},{"x":58.2,"y":40.2,"v":0.3},{"x":59.4,"y":40.2,"v":0.3},
{"x":30.6,"y":41.4,"v":0.3},{"x":33,"y":41.4,"v":0.5},{"x":34.2,"y":41.4,"v":0.5},{"x":35.4,"y":41.4,"v":0.7},{"x":36.6,"y":41.4,"v":0.7},{"x":37.8,"y":41.4,"v":0.95},{"x":39,"y":41.4,"v":0.95},{"x":40.2,"y":41.4,"v":0.95},{"x":41.4,"y":41.4,"v":0.95},{"x":42.6,"y":41.4,"v":0.95},{"x":43.8,"y":41.4,"v":0.95},{"x":45,"y":41.4,"v":0.95},{"x":46.2,"y":41.4,"v":0.95},{"x":47.4,"y":41.4,"v":0.95},{"x":48.6,"y":41.4,"v":0.95},{"x":49.8,"y":41.4,"v":0.95},{"x":51,"y":41.4,"v":0.95},{"x":52.2,"y":41.4,"v":0.5},{"x":53.4,"y":41.4,"v":0.7},{"x":54.6,"y":41.4,"v":0.7},{"x":55.8,"y":41.4,"v":0.5},{"x":57,"y":41.4,"v":0.5},{"x":58.2,"y":41.4,"v":0.5},{"x":59.4,"y":41.4,"v":0.3},
{"x":28.2,"y":42.6,"v":0.3},{"x":29.4,"y":42.6,"v":0.5},{"x":30.6,"y":42.6,"v":0.5},{"x":33,"y":42.6,"v":0.3},{"x":35.4,"y":42.6,"v":0.5},{"x":36.6,"y":42.6,"v":0.5},{"x":37.8,"y":42.6,"v":0.5},{"x":39,"y":42.6,"v":0.7},{"x":40.2,"y":42.6,"v":0.95},{"x":41.4,"y":42.6,"v":0.95},{"x":42.6,"y":42.6,"v":0.95},{"x":43.8,"y":42.6,"v":0.95},{"x":45,"y":42.6,"v":0.5},{"x":46.2,"y":42.6,"v":0.7},{"x":47.4,"y":42.6,"v":0.95},{"x":48.6,"y":42.6,"v":0.95},{"x":49.8,"y":42.6,"v":0.95},{"x":51,"y":42.6,"v":0.95},{"x":52.2,"y":42.6,"v":0.95},{"x":53.4,"y":42.6,"v":0.3},{"x":54.6,"y":42.6,"v":0.7},{"x":55.8,"y":42.6,"v":0.7},{"x":57,"y":42.6,"v":0.5},{"x":58.2,"y":42.6,"v":0.3},{"x":59.4,"y":42.6,"v":0.3},
{"x":27,"y":43.8,"v":0.3},{"x":29.4,"y":43.8,"v":0.5},{"x":30.6,"y":43.8,"v":0.3},{"x":33,"y":43.8,"v":0.3},{"x":34.2,"y":43.8,"v":0.3},{"x":35.4,"y":43.8,"v":0.5},{"x":40.2,"y":43.8,"v":0.7},{"x":41.4,"y":43.8,"v":0.95},{"x":42.6,"y":43.8,"v":0.95},{"x":43.8,"y":43.8,"v":0.95},{"x":45,"y":43.8,"v":0.5},{"x":46.2,"y":43.8,"v":0.7},{"x":47.4,"y":43.8,"v":0.7},{"x":48.6,"y":43.8,"v":0.95},{"x":49.8,"y":43.8,"v":0.95},{"x":51,"y":43.8,"v":0.95},{"x":52.2,"y":43.8,"v":0.95},{"x":53.4,"y":43.8,"v":0.7},{"x":54.6,"y":43.8,"v":0.5},{"x":55.8,"y":43.8,"v":0.5},{"x":57,"y":43.8,"v":0.5},{"x":58.2,"y":43.8,"v":0.3},
{"x":33,"y":45,"v":0.3},{"x":36.6,"y":45,"v":0.7},{"x":37.8,"y":45,"v":0.5},{"x":39,"y":45,"v":0.5},{"x":40.2,"y":45,"v":0.3},{"x":41.4,"y":45,"v":0.5},{"x":43.8,"y":45,"v":0.95},{"x":45,"y":45,"v":0.95},{"x":46.2,"y":45,"v":0.7},{"x":47.4,"y":45,"v":0.7},{"x":48.6,"y":45,"v":0.7},{"x":49.8,"y":45,"v":0.95},{"x":51,"y":45,"v":0.95},{"x":52.2,"y":45,"v":0.7},{"x":53.4,"y":45,"v":0.7},{"x":54.6,"y":45,"v":0.5},{"x":55.8,"y":45,"v":0.5},{"x":57,"y":45,"v":0.5},{"x":58.2,"y":45,"v":0.5},{"x":59.4,"y":45,"v":0.3},
{"x":33,"y":46.2,"v":0.3},{"x":35.4,"y":46.2,"v":0.3},{"x":36.6,"y":46.2,"v":0.3},{"x":37.8,"y":46.2,"v":0.5},{"x":39,"y":46.2,"v":0.7},{"x":40.2,"y":46.2,"v":0.7},{"x":41.4,"y":46.2,"v":0.95},{"x":42.6,"y":46.2,"v":0.95},{"x":43.8,"y":46.2,"v":0.95},{"x":45,"y":46.2,"v":0.95},{"x":46.2,"y":46.2,"v":0.7},{"x":47.4,"y":46.2,"v":0.5},{"x":48.6,"y":46.2,"v":0.95},{"x":49.8,"y":46.2,"v":0.95},{"x":51,"y":46.2,"v":0.5},{"x":52.2,"y":46.2,"v":0.7},{"x":53.4,"y":46.2,"v":0.7},{"x":54.6,"y":46.2,"v":0.95},{"x":55.8,"y":46.2,"v":0.5},{"x":57,"y":46.2,"v":0.5},{"x":58.2,"y":46.2,"v":0.95},{"x":59.4,"y":46.2,"v":0.3},
{"x":35.4,"y":47.4,"v":0.3},{"x":43.8,"y":47.4,"v":0.5},{"x":45,"y":47.4,"v":0.7},{"x":46.2,"y":47.4,"v":0.7},{"x":48.6,"y":47.4,"v":0.95},{"x":49.8,"y":47.4,"v":0.95},{"x":51,"y":47.4,"v":0.95},{"x":52.2,"y":47.4,"v":0.7},{"x":53.4,"y":47.4,"v":0.7},{"x":54.6,"y":47.4,"v":0.5},{"x":55.8,"y":47.4,"v":0.5},{"x":57,"y":47.4,"v":0.5},{"x":58.2,"y":47.4,"v":0.95},{"x":59.4,"y":47.4,"v":0.5},
{"x":34.2,"y":48.6,"v":0.3},{"x":37.8,"y":48.6,"v":0.5},{"x":43.8,"y":48.6,"v":0.3},{"x":45,"y":48.6,"v":0.7},{"x":46.2,"y":48.6,"v":0.7},{"x":47.4,"y":48.6,"v":0.7},{"x":48.6,"y":48.6,"v":0.5},{"x":49.8,"y":48.6,"v":0.3},{"x":51,"y":48.6,"v":0.95},{"x":52.2,"y":48.6,"v":0.5},{"x":53.4,"y":48.6,"v":0.7},{"x":54.6,"y":48.6,"v":0.5},{"x":55.8,"y":48.6,"v":0.5},{"x":57,"y":48.6,"v":0.7},{"x":58.2,"y":48.6,"v":0.7},{"x":59.4,"y":48.6,"v":0.5},
{"x":37.8,"y":49.8,"v":0.5},{"x":42.6,"y":49.8,"v":0.3},{"x":43.8,"y":49.8,"v":0.3},{"x":45,"y":49.8,"v":0.5},{"x":46.2,"y":49.8,"v":0.3},{"x":47.4,"y":49.8,"v":0.95},{"x":48.6,"y":49.8,"v":0.95},{"x":49.8,"y":49.8,"v":0.7},{"x":51,"y":49.8,"v":0.5},{"x":52.2,"y":49.8,"v":0.95},{"x":53.4,"y":49.8,"v":0.95},{"x":55.8,"y":49.8,"v":0.5},{"x":57,"y":49.8,"v":0.5},{"x":58.2,"y":49.8,"v":0.95},{"x":59.4,"y":49.8,"v":0.95},
{"x":37.8,"y":51,"v":0.3},{"x":45,"y":51,"v":0.3},{"x":46.2,"y":51,"v":0.7},{"x":47.4,"y":51,"v":0.3},{"x":48.6,"y":51,"v":0.3},{"x":49.8,"y":51,"v":0.5},{"x":51,"y":51,"v":0.5},{"x":52.2,"y":51,"v":0.5},{"x":53.4,"y":51,"v":0.5},{"x":54.6,"y":51,"v":0.5},{"x":55.8,"y":51,"v":0.5},{"x":57,"y":51,"v":0.5},{"x":58.2,"y":51,"v":0.3},{"x":59.4,"y":51,"v":0.3},
{"x":39,"y":52.2,"v":0.3},{"x":40.2,"y":52.2,"v":0.3},{"x":45,"y":52.2,"v":0.95},{"x":48.6,"y":52.2,"v":0.7},{"x":49.8,"y":52.2,"v":0.5},{"x":51,"y":52.2,"v":0.5},{"x":52.2,"y":52.2,"v":0.5},{"x":53.4,"y":52.2,"v":0.5},{"x":54.6,"y":52.2,"v":0.5},{"x":55.8,"y":52.2,"v":0.7},{"x":57,"y":52.2,"v":0.5},{"x":58.2,"y":52.2,"v":0.5},{"x":59.4,"y":52.2,"v":0.95},
{"x":42.6,"y":53.4,"v":0.5},{"x":43.8,"y":53.4,"v":0.3},{"x":45,"y":53.4,"v":0.3},{"x":46.2,"y":53.4,"v":0.3},{"x":48.6,"y":53.4,"v":0.5},{"x":49.8,"y":53.4,"v":0.7},{"x":51,"y":53.4,"v":0.5},{"x":52.2,"y":53.4,"v":0.5},{"x":53.4,"y":53.4,"v":0.5},{"x":54.6,"y":53.4,"v":0.95},{"x":55.8,"y":53.4,"v":0.95},{"x":57,"y":53.4,"v":0.5},{"x":58.2,"y":53.4,"v":0.95},{"x":59.4,"y":53.4,"v":0.7},
{"x":42.6,"y":54.6,"v":0.3},{"x":45,"y":54.6,"v":0.5},{"x":46.2,"y":54.6,"v":0.3},{"x":48.6,"y":54.6,"v":0.3},{"x":51,"y":54.6,"v":0.5},{"x":52.2,"y":54.6,"v":0.5},{"x":53.4,"y":54.6,"v":0.3},{"x":54.6,"y":54.6,"v":0.5},{"x":55.8,"y":54.6,"v":0.7},{"x":57,"y":54.6,"v":0.5},{"x":58.2,"y":54.6,"v":0.5},{"x":59.4,"y":54.6,"v":0.7},
{"x":36.6,"y":55.8,"v":0.3},{"x":42.6,"y":55.8,"v":0.3},{"x":46.2,"y":55.8,"v":0.3},{"x":51,"y":55.8,"v":0.3},{"x":52.2,"y":55.8,"v":0.5},{"x":53.4,"y":55.8,"v":0.3},{"x":54.6,"y":55.8,"v":0.7},{"x":55.8,"y":55.8,"v":0.5},{"x":57,"y":55.8,"v":0.5},{"x":58.2,"y":55.8,"v":0.5},{"x":59.4,"y":55.8,"v":0.7},
{"x":41.4,"y":57,"v":0.3},{"x":46.2,"y":57,"v":0.3},{"x":49.8,"y":57,"v":0.3},{"x":52.2,"y":57,"v":0.5},{"x":53.4,"y":57,"v":0.3},{"x":54.6,"y":57,"v":0.5},{"x":55.8,"y":57,"v":0.7},{"x":57,"y":57,"v":0.5},{"x":58.2,"y":57,"v":0.5},{"x":59.4,"y":57,"v":0.3},
{"x":47.4,"y":58.2,"v":0.3},{"x":52.2,"y":58.2,"v":0.7},{"x":53.4,"y":58.2,"v":0.3},{"x":54.6,"y":58.2,"v":0.5},{"x":55.8,"y":58.2,"v":0.7},{"x":57,"y":58.2,"v":0.7},{"x":58.2,"y":58.2,"v":0.3},{"x":59.4,"y":58.2,"v":0.5},
{"x":47.4,"y":59.4,"v":0.3},{"x":51,"y":59.4,"v":0.3},{"x":52.2,"y":59.4,"v":0.5},{"x":55.8,"y":59.4,"v":0.7},{"x":57,"y":59.4,"v":0.5},{"x":58.2,"y":59.4,"v":0.7},{"x":59.4,"y":59.4,"v":0.5}
],"bar":[{"lo":0,"hi":0.2083,"v":0.1},{"lo":0.2083,"hi":0.4167,"v":0.3},{"lo":0.4167,"hi":0.625,"v":0.5},{"lo":0.625,"hi":0.8333,"v":0.7},{"lo":0.8333,"hi":1.0417,"v":0.95},{"lo":1.0417,"hi":1.25,"v":1.15},{"lo":1.25,"hi":1.4583,"v":1.35},{"lo":1.4583,"hi":1.6667,"v":1.55},{"lo":1.6667,"hi":1.875,"v":1.75},{"lo":1.875,"hi":2.0833,"v":1.95},{"lo":2.0833,"hi":2.2917,"v":2.15},{"lo":2.2917,"hi":2.5,"v":2.35}]},"hconcat":[{"width":336.7,"height":307.7,"view":{"fill":"#0A2BA0"},"layer":[{"data":{"name":"a"},"mark":{"type":"rect","width":7.5,"height":6.9},"encoding":{"x":{"field":"x","type":"quantitative","scale":{"domain":[4.7,32.3],"nice":false,"zero":false},"axis":{"values":[5,10,15,20,25,30],"title":"GOES-16 rₑ (μm)","titlePadding":6,"labelPadding":13}},"y":{"field":"y","type":"quantitative","scale":{"domain":[4.7,32.3],"nice":false,"zero":false},"axis":{"values":[5,10,15,20,25,30],"title":"GOES-13 rₑ (μm)","titlePadding":19}},"color":{"field":"v","type":"quantitative","legend":null,"scale":{"type":"quantize","domain":[0,2.5],"range":["#0A2BA0","#1A7BE8","#8CCCF5","#1EFF9E","#ADFF2F","#FFFF00","#FFBF00","#FF8000","#FF0000","#A52A2A","#75005F","#9400D3"]}}}},{"data":{"values":[{"x":5,"y":5},{"x":32.3,"y":32.3}]},"mark":{"type":"line","color":"white","strokeWidth":5,"strokeDash":[20,20]},"encoding":{"x":{"field":"x","type":"quantitative"},"y":{"field":"y","type":"quantitative"}}},{"data":{"values":[{"x":5.27,"x2":8.04,"y":31.2,"y2":27.84},{"x":20.63,"x2":26.09,"y":10.89,"y2":7.96},{"x":20.63,"x2":30.93,"y":7.63,"y2":4.7}]},"mark":{"type":"rect","color":"white"},"encoding":{"x":{"field":"x","type":"quantitative"},"x2":{"field":"x2"},"y":{"field":"y","type":"quantitative"},"y2":{"field":"y2"}}},{"data":{"values":[{"x":21.01,"y":9.43,"t":"r=0.97"},{"x":21.01,"y":6.05,"t":"Bias=0.7 μm"}]},"mark":{"type":"text","align":"left","baseline":"middle","fontSize":20,"color":"black"},"encoding":{"x":{"field":"x","type":"quantitative"},"y":{"field":"y","type":"quantitative"},"text":{"field":"t"}}},{"data":{"values":[{"x":6.66,"y":29.5,"t":"(a)"}]},"mark":{"type":"text","align":"center","baseline":"middle","fontSize":23,"color":"black"},"encoding":{"x":{"field":"x","type":"quantitative"},"y":{"field":"y","type":"quantitative"},"text":{"field":"t"}}}]},{"hconcat":[{"width":336,"height":307.7,"view":{"fill":"#0A2BA0"},"layer":[{"data":{"name":"b"},"mark":{"type":"rect","width":6.9,"height":6.3},"encoding":{"x":{"field":"x","type":"quantitative","scale":{"domain":[0,60],"nice":false,"zero":false},"axis":{"values":[0,10,20,30,40,50,60],"title":"GOES-16 τ","titlePadding":6,"labelPadding":13}},"y":{"field":"y","type":"quantitative","scale":{"domain":[0,60],"nice":false,"zero":false},"axis":{"values":[0,10,20,30,40,50,60],"title":"GOES-13 τ","titlePadding":9}},"color":{"field":"v","type":"quantitative","legend":null,"scale":{"type":"quantize","domain":[0,2.5],"range":["#0A2BA0","#1A7BE8","#8CCCF5","#1EFF9E","#ADFF2F","#FFFF00","#FFBF00","#FF8000","#FF0000","#A52A2A","#75005F","#9400D3"]}}}},{"data":{"values":[{"x":0,"y":0},{"x":60,"y":60}]},"mark":{"type":"line","color":"white","strokeWidth":5,"strokeDash":[20,18]},"encoding":{"x":{"field":"x","type":"quantitative"},"y":{"field":"y","type":"quantitative"}}},{"data":{"values":[{"x":2.5,"x2":8.7,"y":58.7,"y2":51.4},{"x":40.36,"x2":52.14,"y":13.06,"y2":6.66},{"x":40.36,"x2":57.5,"y":6.27,"y2":0}]},"mark":{"type":"rect","color":"white"},"encoding":{"x":{"field":"x","type":"quantitative"},"x2":{"field":"x2"},"y":{"field":"y","type":"quantitative"},"y2":{"field":"y2"}}},{"data":{"values":[{"x":41.14,"y":9.83,"t":"r=0.93"},{"x":41.14,"y":2.94,"t":"Bias=-3.4"}]},"mark":{"type":"text","align":"left","baseline":"middle","fontSize":20,"color":"black"},"encoding":{"x":{"field":"x","type":"quantitative"},"y":{"field":"y","type":"quantitative"},"text":{"field":"t"}}},{"data":{"values":[{"x":5.6,"y":54.8,"t":"(b)"}]},"mark":{"type":"text","align":"center","baseline":"middle","fontSize":23,"color":"black"},"encoding":{"x":{"field":"x","type":"quantitative"},"y":{"field":"y","type":"quantitative"},"text":{"field":"t"}}}]},{"width":23,"height":307.7,"view":{"stroke":null},"title":{"text":"log10(#)","fontSize":19,"fontWeight":"normal","font":"Liberation Sans","color":"#303030","offset":-3,"anchor":"middle"},"data":{"name":"bar"},"layer":[{"mark":{"type":"rect"},"encoding":{"y":{"field":"lo","type":"quantitative","scale":{"domain":[0,2.5],"nice":false,"zero":false,"range":[305.5,-2]},"axis":{"orient":"right","values":[0,0.5,1,1.5,2,2.5],"format":"~g","title":null,"tickSize":-3,"labelPadding":6}},"y2":{"field":"hi"},"color":{"field":"v","type":"quantitative","legend":null,"scale":{"type":"quantize","domain":[0,2.5],"range":["#0A2BA0","#1A7BE8","#8CCCF5","#1EFF9E","#ADFF2F","#FFFF00","#FFBF00","#FF8000","#FF0000","#A52A2A","#75005F","#9400D3"]}}}},{"data":{"values":[{"lo":0,"hi":2.5}]},"mark":{"type":"rect","fillOpacity":0,"stroke":"#707070","strokeWidth":1},"encoding":{"y":{"field":"lo","type":"quantitative"},"y2":{"field":"hi"}}}]}],"spacing":10.7,"bounds":"flush"}],"resolve":{"scale":{"color":"independent"}}}
